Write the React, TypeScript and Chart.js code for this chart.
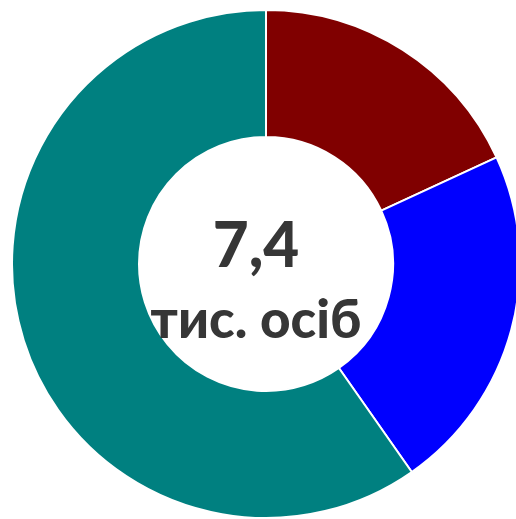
import React, { useEffect, useRef } from "react";
import { Chart, registerables } from "chart.js";

Chart.register(...registerables);

const categories = ["Категорія 1", "Категорія 2", "Категорія 3"];
const values = [1.34, 1.64, 4.42];
const colors = ["#800000", "#0000FF", "#008080"];
const centerValue = "7,4";
const centerUnit = "тис. осіб";

const centerText = {
  id: "centerText",
  afterDraw(chart: any) {
    const { ctx, chartArea } = chart;
    const cx = (chartArea.left + chartArea.right) / 2 - 10;
    const cy = (chartArea.top + chartArea.bottom) / 2;
    ctx.save();
    ctx.fillStyle = "#363636";
    ctx.textAlign = "center";
    ctx.textBaseline = "alphabetic";
    ctx.font = "900 62px Lato";
    ctx.fillText(centerValue, cx, cy + 3);
    ctx.font = "900 53px Lato";
    ctx.fillText(centerUnit, cx, cy + 74);
    ctx.restore();
  },
};

export default function App() {
  const ref = useRef<HTMLCanvasElement>(null);
  useEffect(() => {
    if (!ref.current) return;
    const chart = new Chart(ref.current, {
      type: "doughnut",
      data: {
        labels: categories,
        datasets: [
          {
            data: values,
            backgroundColor: colors,
            borderColor: "#ffffff",
            borderWidth: 2,
          },
        ],
      },
      options: {
        animation: false,
        responsive: false,
        maintainAspectRatio: false,
        cutout: "50%",
        layout: { padding: 0 },
        events: [],
        plugins: {
          legend: { display: false },
          tooltip: { enabled: false },
        },
      },
      plugins: [centerText],
    });
    return () => chart.destroy();
  }, []);
  return (
    <div
      style={{
        position: "fixed",
        left: 0,
        top: 0,
        width: 516,
        height: 519,
        overflow: "hidden",
        background: "#fff",
      }}
    >
      <canvas
        ref={ref}
        width={510}
        height={510}
        style={{ position: "absolute", left: 11, top: 9, width: 510, height: 510 }}
      />
    </div>
  );
}
